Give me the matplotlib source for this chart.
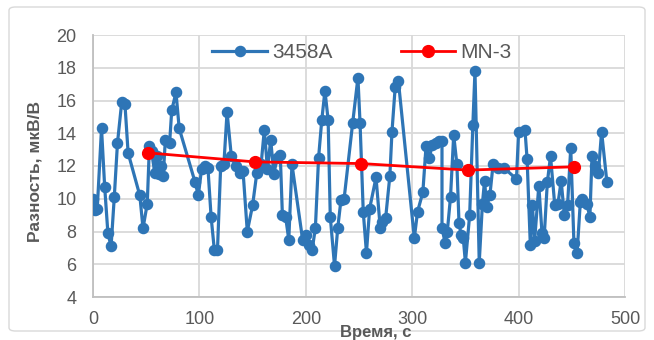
import matplotlib
matplotlib.use("Agg")
import matplotlib.pyplot as plt
from matplotlib.patches import FancyBboxPatch

# --- data ---
t_3458a = [0, 2, 4, 8, 11, 14, 17, 20, 23, 27, 30, 33,
           44, 47, 51, 53, 55, 58, 60, 62, 64, 66, 68, 72, 74, 78, 81,
           96, 99, 102, 105, 108, 111, 114, 117, 120, 123, 126, 130, 134, 138, 141,
           145, 150, 154, 158, 161, 164, 167, 170, 173, 176, 178, 181, 184, 187,
           197, 200, 203, 206, 209, 212, 215, 218, 221, 223, 227, 230, 233, 236,
           244, 249, 251, 254, 257, 260, 266, 270, 272, 275, 279, 281, 284, 287,
           302, 305, 310, 313, 316, 319, 322, 325, 328, 328, 331, 333, 336, 339, 342, 344, 346, 348, 350,
           354, 357, 359, 363, 366, 368, 370, 373, 376, 381, 386,
           398, 400, 406, 408, 411, 413, 415, 419, 422, 424, 427, 430, 434, 437, 440, 443, 446, 449,
           452, 455, 458, 460, 464, 467, 469, 472, 475, 478, 483]
v_3458a = [10.0, 9.3, 9.4, 14.3, 10.7, 7.9, 7.1, 10.1, 13.4, 15.9, 15.8, 12.8,
           10.2, 8.2, 9.7, 13.2, 12.9, 11.6, 12.6, 11.5, 12.0, 11.4, 13.6, 13.4, 15.4, 16.5, 14.3,
           11.0, 10.2, 11.8, 12.0, 11.9, 8.9, 6.9, 6.9, 12.0, 12.1, 15.3, 12.6, 12.0, 11.6, 11.7,
           8.0, 9.6, 11.6, 12.1, 14.2, 11.8, 13.6, 11.5, 12.5, 12.7, 9.0, 8.9, 7.5, 12.1,
           7.5, 7.8, 7.2, 6.9, 8.2, 12.5, 14.8, 16.6, 14.8, 8.9, 5.9, 8.2, 9.9, 10.0,
           14.6, 17.4, 14.6, 9.2, 6.7, 9.4, 11.3, 8.2, 8.6, 8.8, 11.4, 14.1, 16.8, 17.2,
           7.6, 9.2, 10.4, 13.2, 12.5, 13.3, 13.4, 13.5, 13.5, 8.2, 7.3, 8.0, 10.1, 13.9, 12.1, 8.5, 7.8, 7.6, 6.1,
           9.0, 14.5, 17.8, 6.1, 9.7, 11.1, 9.5, 10.2, 12.1, 11.9, 11.9,
           11.2, 14.1, 14.2, 12.4, 7.2, 9.6, 7.4, 10.8, 7.9, 7.6, 11.0, 12.6, 9.6, 9.7, 11.1, 9.0, 9.6, 13.1,
           7.3, 6.7, 9.8, 10.0, 9.7, 8.9, 12.6, 12.0, 11.6, 14.1, 11.0]

t_mn3 = [52, 152, 252, 352, 452]
v_mn3 = [12.8, 12.25, 12.15, 11.75, 11.95]

x_ticks = [0, 100, 200, 300, 400, 500]
y_ticks = [4, 6, 8, 10, 12, 14, 16, 18, 20]

blue = "#2E75B6"
red = "#FF0000"
gray_txt = "#595959"
grid_c = "#D9D9D9"

plt.rcParams['font.family'] = ['Liberation Sans', 'DejaVu Sans']

fig = plt.figure(figsize=(6.54, 3.40), dpi=100)
ax = fig.add_axes([93/654, 1-297/340, (625-93)/654, (297-35)/340])

ax.plot(t_3458a, v_3458a, color=blue, lw=2.3, marker='o', ms=7.3,
        label='3458A', zorder=3)
ax.plot(t_mn3, v_mn3, color=red, lw=2.0, marker='o', ms=8.5,
        label='MN-3', zorder=4)

ax.set_xlim(0, 500)
ax.set_ylim(4, 20)
ax.set_xticks(x_ticks)
ax.set_yticks(y_ticks)
ax.grid(True, color=grid_c, lw=1.3, zorder=0)
ax.set_axisbelow(True)
for s in ['top', 'right']:
    ax.spines[s].set_visible(False)
for s in ['left', 'bottom']:
    ax.spines[s].set_color("#BFBFBF")
    ax.spines[s].set_linewidth(1.3)
ax.tick_params(length=0, labelsize=13, colors=gray_txt)
ax.tick_params(axis='x', pad=10)
ax.tick_params(axis='y', pad=12)

fig.text(35/654, 1-172/340, 'Разность, мкВ/В', rotation=90, ha='center', va='center',
         fontsize=12.5, fontweight='bold', color=gray_txt)
fig.text(376/654, 1-333/340, 'Время, с', ha='center', va='center',
         fontsize=12, fontweight='bold', color=gray_txt)

leg = ax.legend(loc='center', bbox_to_anchor=(362/654, 1-53/340), bbox_transform=fig.transFigure,
                ncol=2, frameon=False, fontsize=15, handlelength=2.6, columnspacing=3.3,
                handletextpad=0.25, labelcolor=gray_txt)

border = FancyBboxPatch((9/654, 9/340), (645-9)/654, (333-9)/340,
                        boxstyle="round,pad=0,rounding_size=0.01",
                        transform=fig.transFigure, fill=False, ec=grid_c, lw=1.0)
fig.patches.append(border)

fig.savefig("out.png", dpi=100)
